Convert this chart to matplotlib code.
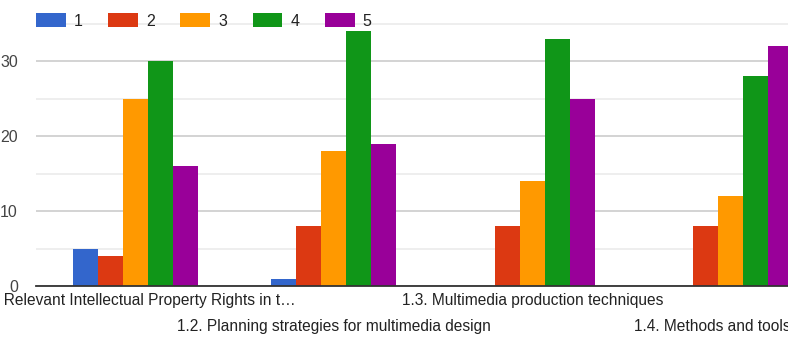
import numpy as np
import matplotlib.pyplot as plt

plt.rcParams['font.family'] = ['Liberation Sans', 'DejaVu Sans']

# Data
categories = [
    "1.1. Relevant Intellectual Property Rights in t\u2026",
    "1.2. Planning strategies for multimedia design",
    "1.3. Multimedia production techniques",
    "1.4. Methods and tools for\u2026",
]
ratings = ["1", "2", "3", "4", "5"]
rating_1 = [5, 1, 0, 0]
rating_2 = [4, 8, 8, 8]
rating_3 = [25, 18, 14, 12]
rating_4 = [30, 34, 33, 28]
rating_5 = [16, 19, 25, 32]
series = [rating_1, rating_2, rating_3, rating_4, rating_5]
colors = ['#3366cc', '#dc3912', '#ff9900', '#109618', '#990099']

W, H = 788, 338
fig = plt.figure(figsize=(W / 100, H / 100), dpi=100)
# axes runs past the right and top edges, like the cropped original
ax = fig.add_axes([36 / W, 52 / H, 794 / W, 300 / H])

x = np.arange(len(categories))
bw = 0.126
for i, (vals, c, lab) in enumerate(zip(series, colors, ratings)):
    ax.bar(x + (i - 2) * bw, vals, bw, color=c, label=lab, zorder=3)

ax.set_xlim(-0.5, 3.5)
ax.set_ylim(0, 40)

ax.set_yticks([0, 10, 20, 30, 40])
ax.set_yticks([5, 15, 25, 35], minor=True)
ax.grid(axis='y', which='major', color='#cccccc', linewidth=1.2, zorder=0)
ax.grid(axis='y', which='minor', color='#ebebeb', linewidth=1.2, zorder=0)
ax.tick_params(axis='y', which='both', length=0, pad=13, labelsize=11.5, labelcolor='#444444')

# staggered category labels: rows alternate
ax.set_xticks(x[0::2])
ax.set_xticklabels(categories[0::2])
ax.set_xticks(x[1::2], minor=True)
ax.set_xticklabels(categories[1::2], minor=True)
ax.tick_params(axis='x', which='major', length=0, pad=5, labelsize=11.2, labelcolor='#222222')
ax.tick_params(axis='x', which='minor', length=0, pad=23.5, labelsize=11.2, labelcolor='#222222')

for s in ['top', 'right', 'left']:
    ax.spines[s].set_visible(False)
ax.spines['bottom'].set_color('#333333')
ax.spines['bottom'].set_linewidth(1.3)
ax.spines['bottom'].set_zorder(4)

fig.legend(loc='center left', bbox_to_anchor=(36 / W, 1 - 21 / H), ncol=5,
           frameon=False, fontsize=11.5, handlelength=1.85, handleheight=1.0,
           handletextpad=0.5, columnspacing=1.62, borderpad=0, borderaxespad=0,
           labelcolor='#222222')

fig.savefig('out.png', dpi=100)
